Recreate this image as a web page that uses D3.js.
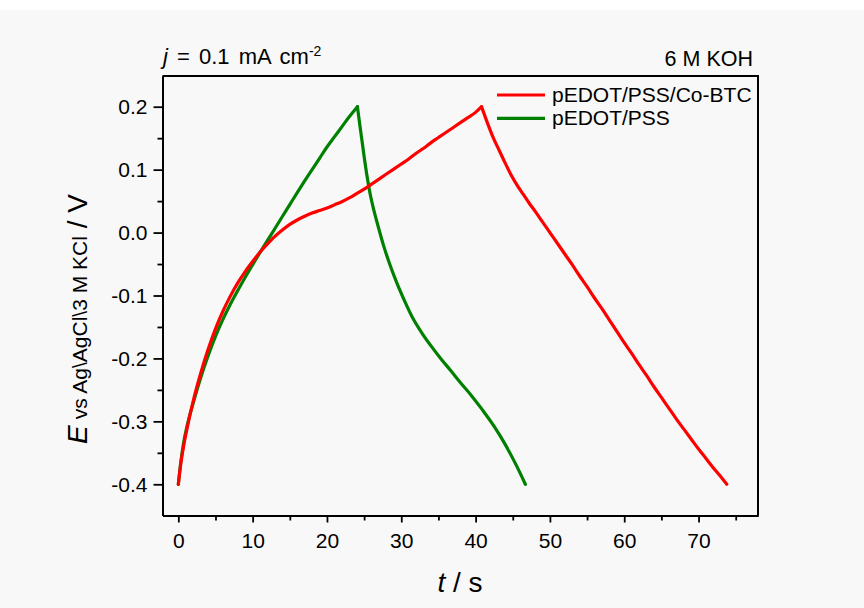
<!DOCTYPE html>
<html>
<head>
<meta charset="utf-8">
<script src="https://cdn.jsdelivr.net/npm/d3@7"></script>
<style>
  html, body { margin: 0; padding: 0; background: #ffffff; }
  svg { display: block; }
  text { font-family: "Liberation Sans", Arial, sans-serif; fill: #000; }
</style>
</head>
<body>
<svg id="chart" width="864" height="608"></svg>
<script>
// ---- Data ----
// pEDOT/PSS/Co-BTC, charge branch
const redChargeT = [0, 0.3, 0.7, 1.2, 2.0, 3.0, 4.0, 5.0, 6.0, 7.0, 8.0, 9.0, 10.0, 11.0, 12.0, 13.0, 14.0, 15.0, 16.0, 17.0, 18.0, 19.0, 20.0, 21.0, 22.0, 23.0, 24.0, 25.0, 26.0, 27.0, 28.0, 29.0, 30.0, 31.0, 32.0, 33.0, 34.0, 35.0, 36.0, 37.0, 38.0, 39.0, 40.0, 40.8];
const redChargeE = [-0.400, -0.370, -0.340, -0.310, -0.268, -0.224, -0.186, -0.153, -0.125, -0.101, -0.080, -0.062, -0.046, -0.031, -0.018, -0.006, 0.004, 0.013, 0.020, 0.026, 0.031, 0.035, 0.039, 0.044, 0.049, 0.055, 0.062, 0.069, 0.077, 0.085, 0.093, 0.101, 0.109, 0.117, 0.126, 0.134, 0.143, 0.151, 0.159, 0.167, 0.175, 0.183, 0.191, 0.200];
// pEDOT/PSS/Co-BTC, discharge branch
const redDischargeT = [40.8, 41.6, 42.4, 43.2, 44.0, 44.8, 45.6, 46.4, 47.2, 48.0, 49.0, 50.0, 51.0, 52.0, 53.0, 54.0, 55.0, 56.0, 57.0, 58.0, 59.0, 60.0, 61.0, 62.0, 63.0, 64.0, 65.0, 66.0, 67.0, 68.0, 69.0, 70.0, 71.0, 72.0, 73.0, 73.8];
const redDischargeE = [0.200, 0.174, 0.150, 0.130, 0.110, 0.091, 0.075, 0.061, 0.047, 0.034, 0.017, 0.000, -0.017, -0.034, -0.051, -0.069, -0.086, -0.104, -0.121, -0.139, -0.157, -0.175, -0.192, -0.210, -0.227, -0.245, -0.262, -0.279, -0.296, -0.312, -0.328, -0.344, -0.359, -0.374, -0.388, -0.400];
// pEDOT/PSS, charge branch
const greenChargeT = [0, 0.3, 0.7, 1.2, 2.0, 3.0, 4.0, 5.0, 6.0, 7.0, 8.0, 9.0, 10.0, 11.0, 12.0, 13.0, 14.0, 15.0, 16.0, 17.0, 18.0, 19.0, 20.0, 21.0, 22.0, 23.0, 24.1];
const greenChargeE = [-0.400, -0.368, -0.335, -0.306, -0.271, -0.231, -0.196, -0.165, -0.138, -0.114, -0.092, -0.071, -0.051, -0.0315, -0.0125, 0.0065, 0.0255, 0.0445, 0.0635, 0.082, 0.100, 0.118, 0.136, 0.152, 0.168, 0.184, 0.200];
// pEDOT/PSS, discharge branch
const greenDischargeT = [24.1, 24.4, 24.7, 25.0, 25.4, 25.8, 26.3, 27.0, 27.6, 28.5, 29.4, 30.5, 31.6, 32.8, 34.0, 35.3, 36.7, 38.0, 39.5, 41.0, 42.5, 44.0, 45.4, 46.7];
const greenDischargeE = [0.200, 0.173, 0.147, 0.121, 0.089, 0.062, 0.036, 0.005, -0.020, -0.052, -0.080, -0.110, -0.137, -0.160, -0.180, -0.200, -0.220, -0.239, -0.260, -0.283, -0.308, -0.337, -0.368, -0.400];

const seriesNames = ["pEDOT/PSS/Co-BTC", "pEDOT/PSS"];
const seriesColors = ["#ff0000", "#008000"];

const xMajorTicks = [0, 10, 20, 30, 40, 50, 60, 70];
const xMinorTicks = [5, 15, 25, 35, 45, 55, 65, 75];
const yMajorTicks = [-0.4, -0.3, -0.2, -0.1, 0.0, 0.1, 0.2];
const yMinorTicks = [-0.35, -0.25, -0.15, -0.05, 0.05, 0.15];

// ---- Layout ----
const L = 162.5, R = 758, T = 76, B = 515.5;
const svg = d3.select("#chart");

svg.append("rect").attr("x", 0).attr("y", 10).attr("width", 864).attr("height", 598).attr("fill", "#f8f8f8");

const x = d3.scaleLinear().domain([-2.13, 78.0]).range([L, R]);
const y = d3.scaleLinear().domain([-0.4496, 0.2488]).range([B, T]);

const fmt = d => d.toFixed(1);

// Axes
const yAxis = svg.append("g").attr("transform", `translate(${L},0)`)
  .call(d3.axisLeft(y).tickValues(yMajorTicks).tickFormat(fmt).tickSize(9).tickPadding(6).tickSizeOuter(0));
const yMinor = svg.append("g").attr("transform", `translate(${L},0)`)
  .call(d3.axisLeft(y).tickValues(yMinorTicks).tickFormat("").tickSize(5).tickSizeOuter(0));
const xAxis = svg.append("g").attr("transform", `translate(0,${B})`)
  .call(d3.axisBottom(x).tickValues(xMajorTicks).tickFormat(d3.format("d")).tickSize(7).tickPadding(11).tickSizeOuter(0));
const xMinor = svg.append("g").attr("transform", `translate(0,${B})`)
  .call(d3.axisBottom(x).tickValues(xMinorTicks).tickFormat("").tickSize(5).tickSizeOuter(0));

[yAxis, yMinor, xAxis, xMinor].forEach(g => {
  g.selectAll("path.domain").attr("stroke", "#000").attr("stroke-width", 2);
  g.selectAll(".tick line").attr("stroke", "#000").attr("stroke-width", 1.8);
  g.selectAll(".tick text").attr("font-size", 21).attr("font-family", '"Liberation Sans", Arial, sans-serif').attr("fill", "#000");
});

// Frame (top and right)
svg.append("path")
  .attr("d", `M${L},${T}H${R}V${B}`)
  .attr("fill", "none").attr("stroke", "#000").attr("stroke-width", 2);

// Lines
const line = d3.line().x(d => x(d[0])).y(d => y(d[1])).curve(d3.curveMonotoneX);
const zip = (a, b) => a.map((v, i) => [v, b[i]]);
[[greenChargeT, greenChargeE, 1], [greenDischargeT, greenDischargeE, 1],
 [redChargeT, redChargeE, 0], [redDischargeT, redDischargeE, 0]].forEach(([t, e, k]) => {
  svg.append("path")
    .attr("d", line(zip(t, e)))
    .attr("fill", "none")
    .attr("stroke", seriesColors[k])
    .attr("stroke-width", 3.2)
    .attr("stroke-linejoin", "round")
    .attr("stroke-linecap", "round");
});

// Legend
const legend = svg.append("g");
seriesNames.forEach((name, i) => {
  const yy = 95 + i * 23.3;
  legend.append("line").attr("x1", 497).attr("x2", 545).attr("y1", yy).attr("y2", yy)
    .attr("stroke", seriesColors[i]).attr("stroke-width", 3.2);
  legend.append("text").attr("x", 552).attr("y", yy + 7).attr("font-size", 21).text(name);
});

// Annotations
const ann = svg.append("text").attr("x", 163).attr("y", 64).attr("font-size", 22).attr("word-spacing", 3);
ann.append("tspan").attr("font-style", "italic").text("j");
ann.append("tspan").text(" = 0.1 mA cm");
ann.append("tspan").attr("font-size", 14).attr("dy", -8).text("-2");

svg.append("text").attr("x", 753).attr("y", 66).attr("text-anchor", "end").attr("font-size", 21.5).text("6 M KOH");

// Axis titles
const xt = svg.append("text").attr("x", 460).attr("y", 592).attr("text-anchor", "middle").attr("font-size", 28);
xt.append("tspan").attr("font-style", "italic").text("t");
xt.append("tspan").text(" / s");

const yt = svg.append("text").attr("transform", "translate(86.5,319) rotate(-90)").attr("text-anchor", "middle").attr("font-size", 28);
yt.append("tspan").attr("font-style", "italic").text("E");
yt.append("tspan").attr("font-size", 21).text(" vs Ag\\AgCl\\3 M KCl");
yt.append("tspan").text(" / V");
</script>
</body>
</html>
